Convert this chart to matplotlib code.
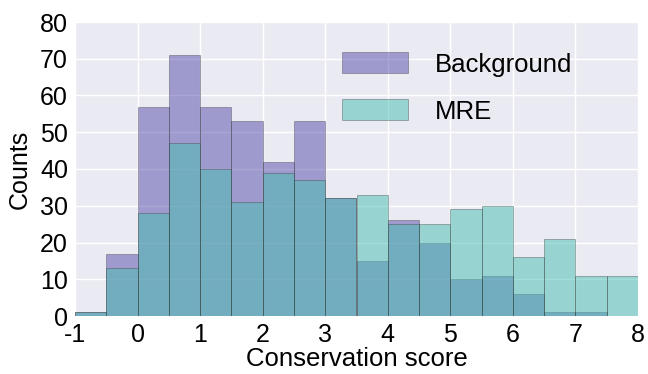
import numpy as np
import matplotlib
matplotlib.use("Agg")
import matplotlib.pyplot as plt

# Histogram bin edges (width 0.5) and counts per bin
bin_edges = np.arange(-1.0, 8.01, 0.5)
background_counts = [1, 17, 57, 71, 57, 53, 42, 53, 32, 15, 26, 20, 10, 11, 6, 1, 1, 0]
mre_counts = [1, 13, 28, 47, 40, 31, 39, 37, 32, 33, 25, 25, 29, 30, 16, 21, 11, 11]
x_ticks = [-1, 0, 1, 2, 3, 4, 5, 6, 7, 8]
y_ticks = [0, 10, 20, 30, 40, 50, 60, 70, 80]

plt.rcParams['font.family'] = ['Liberation Sans', 'DejaVu Sans']
FS = 18

fig = plt.figure(figsize=(6.48, 3.74), dpi=100)
ax = fig.add_axes([75 / 648, 1 - 316 / 374, 563 / 648, 294 / 374])
ax.set_facecolor('#EAEAF2')
for s in ax.spines.values():
    s.set_visible(False)
ax.grid(True, color='white', linewidth=1.0)
ax.set_axisbelow(True)

left_edges = bin_edges[:-1]
widths = np.diff(bin_edges)
ax.bar(left_edges, background_counts, width=widths, align='edge',
       color='#564CAA', alpha=0.5, edgecolor='#333333', linewidth=0.5,
       label='Background')
ax.bar(left_edges, mre_counts, width=widths, align='edge',
       color='#46BEB2', alpha=0.5, edgecolor='#333333', linewidth=0.5,
       label='MRE')

ax.set_xlim(-1, 8)
ax.set_ylim(0, 80)
ax.set_xticks(x_ticks)
ax.set_xticklabels([str(t) for t in x_ticks])
ax.set_yticks(y_ticks)
ax.tick_params(axis='x', length=0, labelsize=FS, pad=5)
ax.tick_params(axis='y', length=0, labelsize=FS, pad=5)
ax.set_xlabel('Conservation score', fontsize=18.5, labelpad=0)
ax.set_ylabel('Counts', fontsize=FS, labelpad=6)

ax.legend(loc='upper left', bbox_to_anchor=(0.474, 0.898), frameon=False,
          fontsize=18.5, handlelength=2.57, handleheight=0.9,
          labelspacing=0.88, handletextpad=1.05,
          borderpad=0, borderaxespad=0)

fig.savefig('out.png', dpi=100)
